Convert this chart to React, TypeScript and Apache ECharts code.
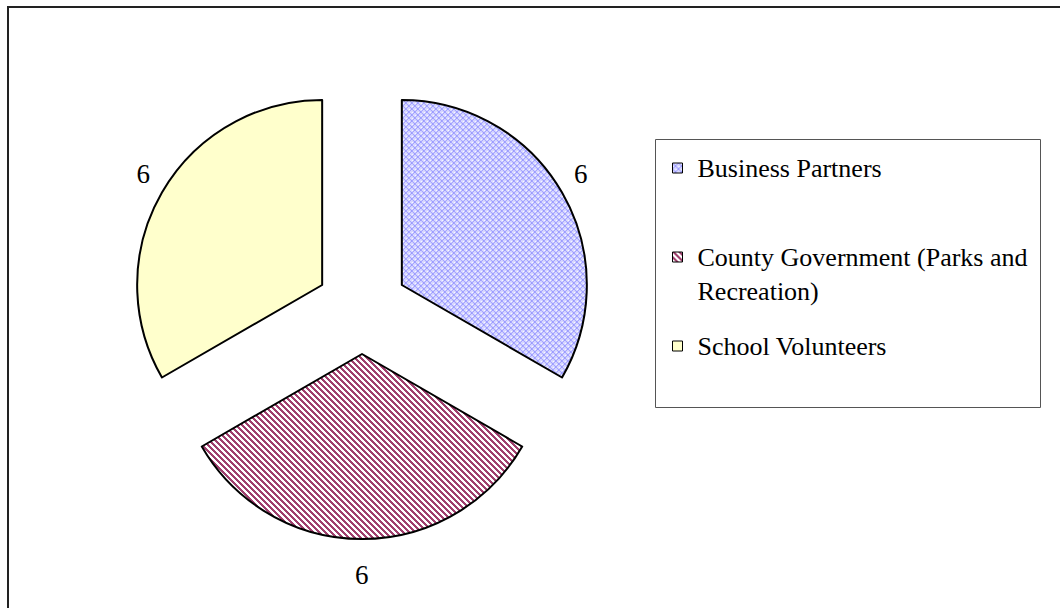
import React, { useEffect, useRef } from "react";
import * as echarts from "echarts";

const categories = [
  "Business Partners",
  "County Government (Parks and Recreation)",
  "School Volunteers",
];
const legendLabels = [
  "Business Partners",
  " \nCounty Government (Parks and\nRecreation)",
  "School Volunteers",
];
const values = [6, 6, 6];

const FONT = "'Liberation Serif', 'Times New Roman', serif";

function makeCross(): HTMLCanvasElement {
  const c = document.createElement("canvas");
  c.width = 6;
  c.height = 6;
  const ctx = c.getContext("2d")!;
  ctx.fillStyle = "#d6d6ff";
  ctx.fillRect(0, 0, 6, 6);
  ctx.fillStyle = "#9c9cff";
  for (let i = 0; i < 6; i++) {
    ctx.fillRect(i, i, 1, 1);
    ctx.fillRect(5 - i, i, 1, 1);
  }
  ctx.fillStyle = "#ffffff";
  ctx.fillRect(3, 0, 1, 1);
  ctx.fillRect(0, 3, 1, 1);
  return c;
}

function makeStripes(): HTMLCanvasElement {
  const c = document.createElement("canvas");
  c.width = 6;
  c.height = 6;
  const ctx = c.getContext("2d")!;
  for (let x = 0; x < 6; x++) {
    for (let y = 0; y < 6; y++) {
      ctx.fillStyle = (x - y + 60) % 6 < 3 ? "#a0406e" : "#ffffff";
      ctx.fillRect(x, y, 1, 1);
    }
  }
  return c;
}

export default function App() {
  const ref = useRef<HTMLDivElement>(null);
  useEffect(() => {
    if (!ref.current) return;
    const chart = echarts.init(ref.current, null, { renderer: "svg" });
    const fills: any[] = [
      { image: makeCross(), repeat: "repeat", imageWidth: 6, imageHeight: 6 },
      { image: makeStripes(), repeat: "repeat", imageWidth: 6, imageHeight: 6 },
      "#ffffcc",
    ];
    const legendTops = [151, 206, 329];
    chart.setOption({
      animation: false,
      backgroundColor: "#ffffff",
      graphic: [
        {
          type: "rect",
          shape: { x: 8, y: 7, width: 1080, height: 640 },
          style: { fill: "none", stroke: "#222222", lineWidth: 2 },
          silent: true,
        },
        {
          type: "rect",
          shape: { x: 655.5, y: 139.5, width: 385, height: 268 },
          style: { fill: "none", stroke: "#555555", lineWidth: 1 },
          silent: true,
        },
      ],
      legend: categories.map((name, i) => ({
        data: [name],
        left: 672,
        top: legendTops[i],
        orient: "vertical",
        padding: 0,
        icon: "rect",
        itemWidth: 10,
        itemHeight: 10,
        selectedMode: false,
        itemStyle: { borderColor: "#000000", borderWidth: 1 },
        formatter: () => legendLabels[i],
        textStyle: {
          fontFamily: FONT,
          fontSize: 26,
          lineHeight: 34,
          color: "#000000",
          padding: [0, 0, 0, 10],
        },
      })),
      series: [
        {
          type: "pie",
          center: [362, 308],
          radius: 185,
          startAngle: 90,
          clockwise: true,
          selectedMode: "multiple",
          selectedOffset: 46,
          avoidLabelOverlap: false,
          emphasis: { disabled: true },
          itemStyle: { borderColor: "#000000", borderWidth: 2 },
          label: {
            show: true,
            position: "outside",
            formatter: "{c}",
            fontFamily: FONT,
            fontSize: 27,
            color: "#000000",
            distanceToLabelLine: -7,
          },
          labelLine: { show: false, length: 37, length2: -13 },
          data: categories.map((name, i) => ({
            name,
            value: values[i],
            selected: true,
            itemStyle: { color: fills[i] },
            labelLine: i === 1 ? { show: false, length: 36, length2: 0 } : undefined,
          })),
        },
      ],
    });
    return () => chart.dispose();
  }, []);
  return (
    <div
      ref={ref}
      style={{ position: "fixed", left: 0, top: 0, width: 1060, height: 608 }}
    />
  );
}
